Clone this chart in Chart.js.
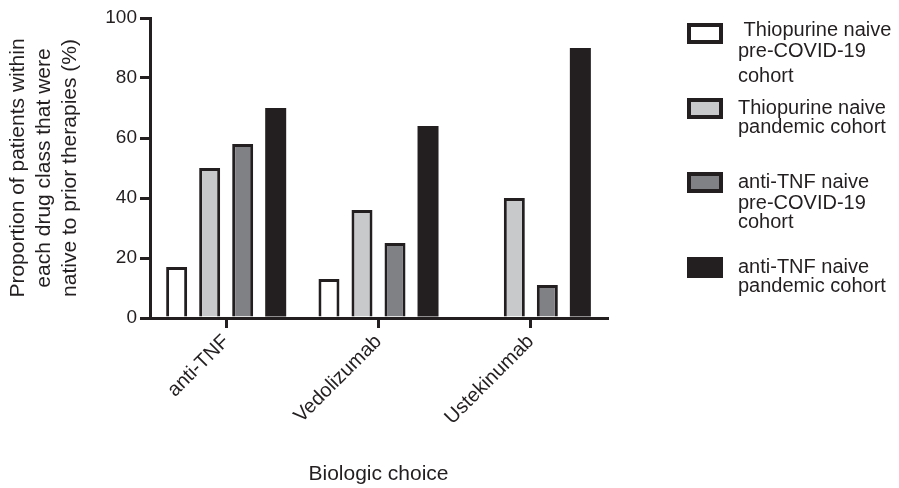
<!DOCTYPE html>
<html>
<head>
<meta charset="utf-8">
<script src="https://cdn.jsdelivr.net/npm/chart.js@4.4.1/dist/chart.umd.min.js"></script>
<style>
  html, body { margin: 0; padding: 0; background: #ffffff; }
  #wrap { width: 899px; height: 488px; position: relative; }
</style>
</head>
<body>
<div id="wrap"><canvas id="c" width="899" height="488"></canvas></div>
<script>
// ---- data ----
const categories = ["anti-TNF", "Vedolizumab", "Ustekinumab"];
const thiopurinePreCovid = [17, 13, 0];
const thiopurinePandemic = [50, 36, 40];
const antiTnfPreCovid = [58, 25, 11];
const antiTnfPandemic = [70, 64, 90];
const seriesLabels = [
  [" Thiopurine naive", "pre-COVID-19", "cohort"],
  ["Thiopurine naive", "pandemic cohort"],
  ["anti-TNF naive", "pre-COVID-19", "cohort"],
  ["anti-TNF naive", "pandemic cohort"]
];
const yTickValues = [0, 20, 40, 60, 80, 100];
const yTitle = ["Proportion of patients within", "each drug class that were", "native to prior therapies (%)"];
const xTitle = "Biologic choice";

// ---- styles ----
const INK = "#231f20";
const FONT = '"Liberation Sans", Arial, Helvetica, sans-serif';
const fills = ["#ffffff", "#c8c9cb", "#808184", INK];
const borders = [3, 3, 3, 0];

const seriesValues = [thiopurinePreCovid, thiopurinePandemic, antiTnfPreCovid, antiTnfPandemic];

const datasets = seriesValues.map((vals, i) => ({
  label: seriesLabels[i].join(" ").trim(),
  data: vals,
  backgroundColor: fills[i],
  borderColor: INK,
  borderWidth: borders[i],
  borderSkipped: "start",
  categoryPercentage: 0.867,
  barPercentage: 0.636
}));

// custom legend (boxes + multi-line labels) on the right
const legendLayout = [
  { boxTop: 23, baselines: [36, 57, 82] },
  { boxTop: 98, baselines: [114, 133] },
  { boxTop: 172, baselines: [188, 209, 228] },
  { boxTop: 257, baselines: [273, 292] }
];
const customLegend = {
  id: "customLegend",
  afterDraw(chart) {
    const ctx = chart.ctx;
    ctx.save();
    chart.data.datasets.forEach((ds, i) => {
      const L = legendLayout[i];
      const bx = 687, bw = 36, bh = 21;
      ctx.fillStyle = ds.backgroundColor;
      ctx.fillRect(bx, L.boxTop, bw, bh);
      if (ds.borderWidth > 0) {
        ctx.strokeStyle = INK;
        ctx.lineWidth = 4;
        ctx.strokeRect(bx + 2, L.boxTop + 2, bw - 4, bh - 4);
      }
      ctx.fillStyle = INK;
      ctx.font = "20px " + FONT;
      ctx.textAlign = "left";
      ctx.textBaseline = "alphabetic";
      seriesLabels[i].forEach((line, j) => {
        ctx.fillText(line, 738, L.baselines[j]);
      });
    });
    ctx.restore();
  }
};

Chart.defaults.font.family = FONT;
Chart.defaults.color = INK;

new Chart(document.getElementById("c"), {
  type: "bar",
  data: { labels: categories, datasets },
  plugins: [customLegend],
  options: {
    responsive: false,
    animation: false,
    layout: { padding: { left: 0, right: 292, top: 18, bottom: 0 } },
    plugins: { legend: { display: false }, tooltip: { enabled: false } },
    scales: {
      x: {
        offset: true,
        grid: {
          offset: false,
          drawOnChartArea: false,
          drawTicks: true,
          tickLength: 10,
          lineWidth: 3,
          color: INK
        },
        border: { display: true, color: INK, width: 3 },
        ticks: {
          minRotation: 45,
          maxRotation: 45,
          padding: 2,
          color: INK,
          font: { size: 20 }
        },
        title: {
          display: true,
          text: xTitle,
          color: INK,
          font: { size: 21, lineHeight: 1.2 },
          padding: { top: 0, bottom: 1 }
        },
        afterFit(scale) { scale.height = 170; }
      },
      y: {
        min: 0,
        max: 100,
        afterBuildTicks(scale) { scale.ticks = yTickValues.map(v => ({ value: v })); },
        grid: {
          drawOnChartArea: false,
          drawTicks: true,
          tickLength: 10,
          lineWidth: 3,
          color: INK
        },
        border: { display: true, color: INK, width: 3 },
        ticks: {
          padding: 3,
          color: INK,
          font: { size: 19 }
        },
        title: {
          display: true,
          text: yTitle,
          color: INK,
          font: { size: 21, lineHeight: 1.25 },
          padding: { top: 5, bottom: 0 }
        },
        afterFit(scale) { scale.width = 150; }
      }
    }
  }
});
</script>
</body>
</html>
